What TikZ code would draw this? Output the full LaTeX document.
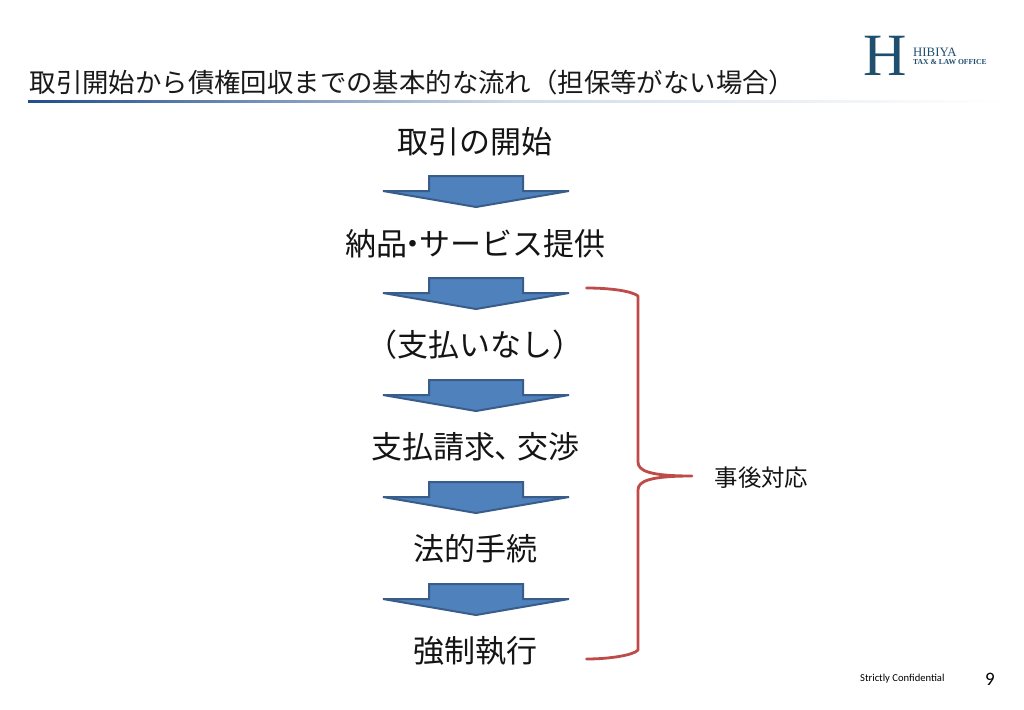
\documentclass[tikz,border=0pt]{standalone}
\usepackage{fontspec}
\setmainfont{Noto Sans CJK JP}
\newfontfamily\logofont{Liberation Serif}
\newfontfamily\footfont{Carlito}
\definecolor{arrowfill}{HTML}{4F81BD}
\definecolor{arrowline}{HTML}{385D8A}
\definecolor{bracered}{HTML}{BE4B48}
\definecolor{logoblue}{HTML}{1F4E6E}
\definecolor{ruleblue}{HTML}{1F4E8C}
\tikzset{
  x=1pt,y=-1pt,
  steplabel/.style={inner sep=0pt,anchor=center,font=\fontsize{31}{31}\selectfont,text=black!92},
  downarrow/.pic={\path[draw=arrowline,fill=arrowfill,line width=2pt,line join=miter]
     (-47,-16) -- (47,-16) -- (47,-1) -- (93,-1) -- (0,15) -- (-93,-1) -- (-47,-1) -- cycle;},
  bracestroke/.style={draw=bracered,line width=2.8pt,line cap=round,line join=round},
}
\begin{document}
\begin{tikzpicture}
\useasboundingbox (0,0) rectangle (1024,709);
\fill[white] (0,0) rectangle (1024,709);
% title and rule
\node[anchor=west,inner sep=0pt,font=\fontsize{26.4}{27}\selectfont,text=black!90] (title) at (29.5,82) {取引開始から債権回収までの基本的な流れ（担保等がない場合）};
\shade[left color=ruleblue,right color=white,middle color=ruleblue!20] (28,100.4) rectangle (1005,102);
% logo
\node[inner sep=0pt,font=\logofont\fontsize{60}{60}\selectfont,text=logoblue] (logoH) at (885.5,56) {H};
\node[anchor=west,inner sep=0pt,font=\logofont\fontsize{12.8}{13}\selectfont,text=logoblue] (logoA) at (913,52) {HIBIYA};
\node[anchor=west,inner sep=0pt,font=\logofont\bfseries\fontsize{7.6}{9}\selectfont,text=logoblue] (logoB) at (913,62) {TAX \& LAW OFFICE};
% steps
\node[steplabel] (s1) at (475,142) {取引の開始};
\node[steplabel] (s2) at (475,244) {納品\hspace{-9.5pt}・\hspace{-9.5pt}サービス提供};
\node[steplabel] (s3) at (475,345) {（支払いなし）};
\node[steplabel] (s4) at (475,447) {支払請求\hspace{-1pt}、\hspace{-8pt}交渉};
\node[steplabel] (s5) at (475,549) {法的手続};
\node[steplabel] (s6) at (475,651) {強制執行};
% block arrows
\pic at (476,192) {downarrow};
\pic at (476,294) {downarrow};
\pic at (476,396) {downarrow};
\pic at (476,498) {downarrow};
\pic at (476,600) {downarrow};
% brace
\coordinate (bt) at (586.5,288);
\coordinate (bb) at (586.5,659);
\coordinate (bm) at (692,476);
\draw[bracestroke] (bt) .. controls (610,288) and (632,291) .. (638,296)
  -- (638,462) .. controls (638,471) and (650,476) .. (bm)
  .. controls (650,476) and (638,481) .. (638,490)
  -- (638,650) .. controls (634,655) and (610,659) .. (bb);
\node[anchor=center,inner sep=0pt,font=\fontsize{23.4}{24}\selectfont,text=black!92] (after) at (761.5,477.5) {事後対応};
% footer
\node[anchor=west,inner sep=0pt,font=\footfont\fontsize{10.6}{11}\selectfont] (conf) at (860,678.5) {Strictly Confidential};
\node[inner sep=0pt,font=\footfont\fontsize{19}{19}\selectfont] (page) at (990,679) {9};
\end{tikzpicture}
\end{document}
